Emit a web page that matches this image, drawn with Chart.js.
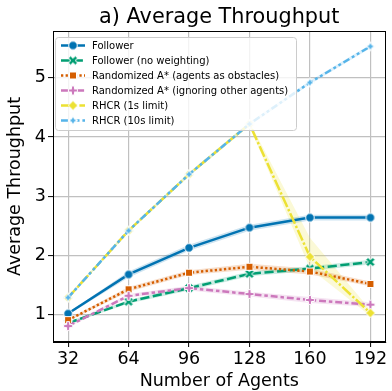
<!DOCTYPE html>
<html>
<head>
<meta charset="utf-8">
<script src="https://cdn.jsdelivr.net/npm/chart.js@4.4.0/dist/chart.umd.min.js"></script>
<style>
  body { margin: 0; background: #fff; }
  canvas { display: block; }
</style>
</head>
<body>
<canvas id="chart" width="392" height="391"></canvas>
<script>
// data
const agents = [32, 64, 96, 128, 160, 192];
const yTicks = [1, 2, 3, 4, 5];

const follower      = [1.02, 1.68, 2.13, 2.47, 2.64, 2.64];
const followerNoW   = [0.86, 1.22, 1.45, 1.69, 1.78, 1.89];
const randObstacles = [0.91, 1.43, 1.71, 1.81, 1.73, 1.52];
const randIgnoring  = [0.81, 1.32, 1.45, 1.35, 1.25, 1.17];
const rhcr1s        = [1.29, 2.42, 3.37, 4.22, 1.98, 1.03];
const rhcr10s       = [1.29, 2.42, 3.37, 4.22, 4.92, 5.53];

// confidence band half widths (below / above the mean)
const followerErr   = [0.02, 0.05, 0.05, 0.05, 0.05, 0.05];
const followerNoWErr= [0.02, 0.03, 0.04, 0.04, 0.04, 0.04];
const obstaclesErr  = [0.02, 0.04, 0.04, 0.05, 0.05, 0.04];
const ignoringErr   = [0.02, 0.03, 0.04, 0.04, 0.05, 0.04];
const rhcr1sErrLo   = [0.02, 0.03, 0.03, 0.04, 0.2, 0.05];
const rhcr1sErrHi   = [0.02, 0.03, 0.03, 0.04, 0.32, 0.05];
const rhcr10sErr    = [0.02, 0.02, 0.03, 0.03, 0.03, 0.03];

const series = [
  { label: 'Follower', data: follower, lo: followerErr, hi: followerErr, color: '#0173b2', rgb: '1,115,178', dash: [], mark: 'o' },
  { label: 'Follower (no weighting)', data: followerNoW, lo: followerNoWErr, hi: followerNoWErr, color: '#029e73', rgb: '2,158,115', dash: [9.2, 3.5], mark: 'X' },
  { label: 'Randomized A* (agents as obstacles)', data: randObstacles, lo: obstaclesErr, hi: obstaclesErr, color: '#d55e00', rgb: '213,94,0', dash: [2.3, 2.3], mark: 's' },
  { label: 'Randomized A* (ignoring other agents)', data: randIgnoring, lo: ignoringErr, hi: ignoringErr, color: '#cc78bc', rgb: '204,120,188', dash: [6.9, 2.9, 3.5, 2.9], mark: 'P' },
  { label: 'RHCR (1s limit)', data: rhcr1s, lo: rhcr1sErrLo, hi: rhcr1sErrHi, color: '#ece133', rgb: '236,225,51', dash: [11.5, 2.3, 2.3, 2.3], mark: 'D' },
  { label: 'RHCR (10s limit)', data: rhcr10s, lo: rhcr10sErr, hi: rhcr10sErr, color: '#56b4e9', rgb: '86,180,233', dash: [6.9, 2.9, 2.9, 2.9, 2.9, 2.9], mark: '*' }
];

function poly(g, pts) {
  g.moveTo(pts[0][0], pts[0][1]);
  for (let i = 1; i < pts.length; i++) g.lineTo(pts[i][0], pts[i][1]);
  g.closePath();
}

function makeMarker(shape, color) {
  const c = document.createElement('canvas');
  c.width = 14; c.height = 14;
  const g = c.getContext('2d');
  g.translate(7, 7);
  g.beginPath();
  if (shape === 'o') {
    g.arc(0, 0, 4.3, 0, Math.PI * 2);
  } else if (shape === 's') {
    g.rect(-3.5, -3.5, 7, 7);
  } else if (shape === 'D') {
    poly(g, [[0, -4.7], [4.7, 0], [0, 4.7], [-4.7, 0]]);
  } else if (shape === 'X' || shape === 'P') {
    const r = 4.4, w = 1.5;
    let pts = [[w, r], [w, w], [r, w], [r, -w], [w, -w], [w, -r], [-w, -r], [-w, -w], [-r, -w], [-r, w], [-w, w], [-w, r]];
    if (shape === 'X') {
      const a = Math.PI / 4;
      pts = pts.map(p => [p[0] * Math.cos(a) - p[1] * Math.sin(a), p[0] * Math.sin(a) + p[1] * Math.cos(a)]);
      pts = pts.map(p => [p[0] * 1.1, p[1] * 1.1]);
    }
    poly(g, pts);
  } else {
    const pts = [];
    for (let i = 0; i < 8; i++) {
      const ang = -Math.PI / 2 + i * Math.PI / 4;
      const rr = i % 2 === 0 ? 4.8 : 2.0;
      pts.push([rr * Math.cos(ang), rr * Math.sin(ang)]);
    }
    poly(g, pts);
  }
  g.fillStyle = color;
  g.fill();
  g.lineWidth = 1;
  g.strokeStyle = '#fff';
  g.stroke();
  return c;
}

series.forEach(s => { s.img = makeMarker(s.mark, s.color); });

const datasets = [];
series.forEach((s, i) => {
  datasets.push({
    label: s.label + ' lo',
    data: s.data.map((v, j) => v - s.lo[j]),
    borderColor: 'transparent', borderWidth: 0, pointRadius: 0, fill: false, order: 100
  });
  datasets.push({
    label: s.label + ' hi',
    data: s.data.map((v, j) => v + s.hi[j]),
    borderColor: 'transparent', borderWidth: 0, pointRadius: 0,
    fill: '-1', backgroundColor: 'rgba(' + s.rgb + ',0.2)', order: 100
  });
});
series.forEach((s, i) => {
  datasets.push({
    label: s.label,
    data: s.data,
    borderColor: s.color,
    borderWidth: 2.5,
    borderDash: s.dash,
    pointStyle: s.img,
    pointRadius: 4,
    fill: false,
    order: 10 - i
  });
});

const font = 'DejaVu Sans';

const decor = {
  id: 'decor',
  afterDraw(chart) {
    const ctx = chart.ctx;
    const a = chart.chartArea;
    ctx.save();
    // frame
    ctx.strokeStyle = '#000';
    ctx.lineWidth = 1;
    ctx.strokeRect(Math.round(a.left) + 0.5, Math.round(a.top) + 0.5, Math.round(a.right - a.left) - 1, Math.round(a.bottom - a.top) - 1);
    // title
    ctx.fillStyle = '#000';
    ctx.font = '20.8px "' + font + '"';
    ctx.textAlign = 'center';
    ctx.textBaseline = 'alphabetic';
    ctx.fillText('a) Average Throughput', (a.left + a.right) / 2, 23);
    // legend
    const bx = 55.5, by = 37.5, bw = 241, bh = 93;
    ctx.beginPath();
    ctx.roundRect(bx, by, bw, bh, 3);
    ctx.fillStyle = 'rgba(255,255,255,0.8)';
    ctx.fill();
    ctx.strokeStyle = '#cccccc';
    ctx.lineWidth = 1;
    ctx.stroke();
    ctx.font = '10px "' + font + '"';
    ctx.textAlign = 'left';
    ctx.textBaseline = 'middle';
    series.forEach((s, i) => {
      const y = 45.5 + i * 15;
      ctx.beginPath();
      ctx.setLineDash(s.dash);
      ctx.strokeStyle = s.color;
      ctx.lineWidth = 2.5;
      ctx.moveTo(61, y);
      ctx.lineTo(85, y);
      ctx.stroke();
      ctx.setLineDash([]);
      ctx.drawImage(s.img, 73 - 7, y - 7);
      ctx.fillStyle = '#000';
      ctx.fillText(s.label, 92, y + 0.5);
    });
    ctx.restore();
  }
};

new Chart(document.getElementById('chart'), {
  type: 'line',
  data: { labels: agents, datasets: datasets },
  options: {
    responsive: false,
    devicePixelRatio: 1,
    animation: false,
    parsing: true,
    layout: { padding: { left: 0, right: 2, top: 31, bottom: 0 } },
    plugins: {
      legend: { display: false },
      tooltip: { enabled: false },
      filler: { propagate: false }
    },
    scales: {
      x: {
        type: 'linear',
        min: 24,
        max: 200,
        afterBuildTicks: s => { s.ticks = agents.map(v => ({ value: v })); },
        afterFit: s => { s.height = 49; },
        grid: { color: '#c0c0c0', lineWidth: 1.2, tickColor: '#000', tickLength: 5, tickWidth: 1 },
        border: { color: '#000', width: 1 },
        ticks: { color: '#000', font: { family: font, size: 17.5 }, padding: 2, maxRotation: 0 },
        title: { display: true, text: 'Number of Agents', color: '#000', font: { family: font, size: 17.5, lineHeight: 1 }, padding: { top: 0, bottom: 0.3 } }
      },
      y: {
        type: 'linear',
        min: 0.54,
        max: 5.79,
        afterBuildTicks: s => { s.ticks = yTicks.map(v => ({ value: v })); },
        afterFit: s => { s.width = 53; },
        grid: { color: '#c0c0c0', lineWidth: 1.2, tickColor: '#000', tickLength: 5, tickWidth: 1 },
        border: { color: '#000', width: 1 },
        ticks: { color: '#000', font: { family: font, size: 17.5 }, padding: 2 },
        title: { display: true, text: 'Average Throughput', color: '#000', font: { family: font, size: 17.5, lineHeight: 1.2 }, padding: { top: 4.6, bottom: 0 } }
      }
    }
  },
  plugins: [decor]
});
</script>
</body>
</html>
